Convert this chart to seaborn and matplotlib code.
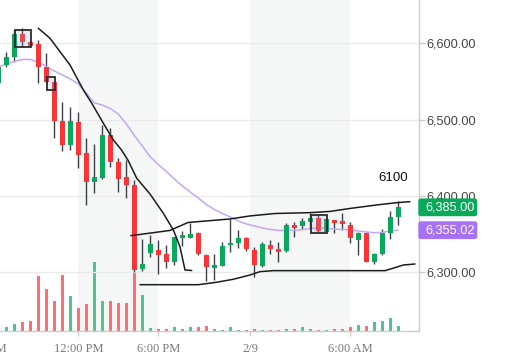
import matplotlib
matplotlib.use("Agg")
import numpy as np
import pandas as pd
import matplotlib.pyplot as plt
import seaborn as sns
from matplotlib.patches import Rectangle, FancyBboxPatch
from matplotlib.transforms import blended_transform_factory
from matplotlib.ticker import FuncFormatter

# ---------------- data ----------------
opens = [6548.4, 6571.6, 6582.4, 6612.2, 6602.0, 6599.1, 6569.3, 6549.7, 6498.2, 6466.7,
         6496.9, 6455.8, 6418.6, 6423.9, 6479.8, 6444.8, 6424.4, 6414.3, 6303.8, 6324.8,
         6329.1, 6323.9, 6313.8, 6344.4, 6345.2, 6351.0, 6322.5, 6305.9, 6308.1, 6335.3,
         6337.9, 6344.8, 6329.5, 6308.5, 6335.6, 6330.4, 6328.2, 6361.9, 6361.0, 6366.2,
         6371.4, 6353.1, 6368.4, 6367.1, 6361.9, 6342.2, 6351.0, 6313.8, 6323.9, 6351.0,
         6372.7]
highs = [6571.0, 6588.2, 6617.4, 6620.0, 6602.5, 6604.3, 6587.6, 6550.0, 6522.7, 6516.1,
         6510.4, 6476.3, 6467.6, 6492.9, 6488.6, 6449.3, 6447.1, 6420.8, 6343.1, 6348.8,
         6342.2, 6335.6, 6346.5, 6354.4, 6364.9, 6353.1, 6323.9, 6323.9, 6340.0, 6369.3,
         6355.3, 6345.5, 6333.4, 6340.0, 6342.2, 6340.0, 6364.1, 6366.2, 6370.7, 6378.0,
         6375.0, 6370.7, 6368.8, 6378.0, 6366.2, 6353.1, 6353.1, 6324.5, 6356.2, 6380.6,
         6393.7]
lows = [6546.0, 6569.3, 6575.9, 6595.5, 6596.5, 6548.4, 6547.6, 6475.5, 6459.2, 6460.2,
        6437.0, 6388.1, 6404.2, 6421.8, 6438.3, 6405.5, 6396.9, 6300.7, 6302.0, 6320.3,
        6297.7, 6305.1, 6309.4, 6334.3, 6344.4, 6322.5, 6288.9, 6289.8, 6307.5, 6326.9,
        6332.1, 6328.2, 6294.2, 6306.4, 6323.9, 6313.8, 6326.9, 6345.7, 6356.2, 6357.5,
        6353.1, 6351.0, 6351.8, 6355.3, 6337.9, 6322.5, 6313.0, 6310.7, 6322.5, 6343.1,
        6361.9]
closes = [6569.3, 6582.4, 6612.2, 6601.7, 6597.0, 6568.5, 6548.9, 6498.6, 6466.7, 6498.2,
          6453.6, 6418.6, 6424.4, 6479.8, 6444.8, 6421.8, 6414.3, 6302.9, 6310.7, 6337.0,
          6322.5, 6313.8, 6345.7, 6348.8, 6350.1, 6323.9, 6307.2, 6309.4, 6334.3, 6338.7,
          6344.8, 6330.4, 6309.4, 6337.0, 6330.4, 6326.9, 6361.9, 6358.3, 6367.1, 6370.7,
          6354.4, 6369.3, 6364.9, 6362.8, 6344.4, 6351.8, 6313.8, 6323.9, 6351.0, 6372.7,
          6385.0]
volumes = [20, 12, 22, 28, 31, 166, 127, 91, 169, 106,
           70, 82, 208, 91, 91, 85, 85, 178, 109, 10,
           7, 7, 13, 7, 13, 13, 16, 7, 4, 13,
           4, 4, 7, 4, 2, 2, 7, 7, 13, 7,
           4, 4, 7, 7, 13, 19, 16, 28, 31, 40,
           16]
ma_values = [6568.9, 6572.9, 6576.1, 6578.8, 6578.8, 6575.5, 6569.6, 6563.7, 6558.5, 6553.2,
             6546.7, 6534.9, 6521.8, 6519.1, 6514.5, 6507.3, 6494.2, 6479.2, 6465.4, 6451.0,
             6441.2, 6432.0, 6422.2, 6413.0, 6405.1, 6397.2, 6388.7, 6382.2, 6376.9, 6372.4,
             6367.1, 6363.2, 6360.6, 6357.9, 6356.0, 6354.7, 6354.7, 6354.9, 6355.7, 6357.0,
             6358.2, 6357.3, 6356.4, 6356.0, 6355.3, 6354.0, 6352.7, 6351.8, 6352.1, 6354.0,
             6355.02]

# drawings (bar index, price)
trend_x = [5.0, 6.46, 7.71, 8.96, 10.63, 11.68, 13.13, 14.38, 15.4, 16.25, 17.3, 18.96,
           20.63, 21.88, 22.71, 23.34, 24.18]
trend_y = [6619.7, 6606.6, 6589.0, 6571.6, 6538.8, 6521.4, 6495.2, 6473.3, 6460.2, 6446.0,
           6423.1, 6402.5, 6377.2, 6355.3, 6333.4, 6302.9, 6302.2]
upper_x = [16.55, 21.46, 23.71, 28.96, 31.46, 34.59, 38.96, 41.46, 43.96, 47.3, 49.8, 51.46]
upper_y = [6347.8, 6354.7, 6365.1, 6369.7, 6373.7, 6376.9, 6378.0, 6379.6, 6383.5, 6388.1,
           6391.1, 6392.4]
lower_x = [17.71, 25.0, 27.3, 29.38, 31.46, 32.71, 34.38, 48.34, 49.18, 50.63, 52.09]
lower_y = [6283.6, 6283.6, 6286.8, 6290.7, 6296.3, 6300.7, 6302.0, 6302.0, 6304.6, 6309.4,
           6310.7]
boxes = [(2.05, 4.13, 6594.8, 6617.4), (6.05, 7.13, 6538.8, 6555.4), (39.05, 41.05, 6351.0, 6375.0)]
note_text = "6100"
note_pos = (49.34, 6423.5)

price_ticks = [6300, 6400, 6500, 6600]
time_tick_pos = [10, 20, 31.5, 44]
time_tick_labels = ["12:00 PM", "6:00 PM", "2/9", "6:00 AM"]
left_tick_pos, left_tick_label = -1.8, "6:00 AM"
sessions = [(10, 20), (31.5, 44)]

# ---------------- style ----------------
sns.set_theme(style="white")
plt.rcParams["font.family"] = ["Liberation Sans", "DejaVu Sans"]

GREEN = "#08a95a"
RED = "#fc3437"
VOL_GREEN = "#52c28f"
VOL_RED = "#fb7075"
WICK = "#3c4148"
MA_COLOR = "#c4a6f7"
PURPLE = "#a872f6"
BAND = "#f5f7f7"
GRID = "#ebebeb"
AXIS = "#cccccc"
DRAW = "#1c1c1c"
SERIF = ["Liberation Serif", "DejaVu Serif"]

o = np.array(opens); c = np.array(closes)
n = len(opens)
idx = np.arange(n)
direction = np.where(c >= o, "up", "down")
df = pd.DataFrame(dict(idx=idx, open=o, high=highs, low=lows, close=c,
                       volume=volumes, ma=ma_values, dir=direction))

fig = plt.figure(figsize=(5.15, 3.64), dpi=100)
axv = fig.add_axes([0, 33 / 364, 419 / 515, 331 / 364])
ax = axv.twinx()

# sessions shading
for a, b in sessions:
    axv.axvspan(a, b, color=BAND, lw=0, zorder=0)

# volume bars
sns.barplot(data=df, x="idx", y="volume", hue="dir",
            palette={"up": VOL_GREEN, "down": VOL_RED}, dodge=False, width=0.33,
            native_scale=True, saturation=1, errorbar=None, legend=False, ax=axv,
            linewidth=0, zorder=1)
axv.set_ylim(0, 993)
axv.set_yticks([])
axv.set_xlabel("")
axv.set_ylabel("")

# price grid
for t in price_ticks:
    ax.axhline(t, color=GRID, lw=1, zorder=0.5)

# MA line
sns.lineplot(data=df, x="idx", y="ma", ax=ax, color=MA_COLOR, lw=1.1, zorder=2.5)

# candles
ax.vlines(idx, df["low"], df["high"], color=WICK, lw=1, zorder=2)
ax.bar(idx, np.abs(c - o), bottom=np.minimum(o, c), width=0.59,
       color=[GREEN if d == "up" else RED for d in direction], lw=0, zorder=3)

# drawings
ax.plot(trend_x, trend_y, color=DRAW, lw=1.1, zorder=5)
ax.plot(upper_x, upper_y, color=DRAW, lw=1.1, zorder=5)
ax.plot(lower_x, lower_y, color=DRAW, lw=1.1, zorder=5)
for x0, x1, y0, y1 in boxes:
    ax.add_patch(Rectangle((x0, y0), x1 - x0, y1 - y0, facecolor=(0.55, 0.65, 0.85, 0.2),
                           edgecolor="#2b2b2b", lw=1.3, zorder=6))
ax.text(note_pos[0], note_pos[1], note_text, ha="center", va="center", fontsize=9.5,
        color="#111111", zorder=7)

# axes limits
ax.set_ylim(6222.9, 6656.7)
axv.set_xlim(0.2125, 52.59)
ax.set_xlim(0.2125, 52.59)
ax.set_xlabel("")
ax.set_ylabel("")

# y axis (right)
ax.set_yticks(price_ticks)
ax.yaxis.set_major_formatter(FuncFormatter(lambda v, p: f"{v:,.2f}"))
ax.tick_params(axis="y", right=True, left=False, length=4, width=1, color=AXIS, pad=1.5,
               labelsize=9.2, labelcolor="#454545")

# x axis (bottom)
TL, PAD = 3.5, 5.0
axv.set_xticks(time_tick_pos)
axv.set_xticklabels(time_tick_labels)
axv.tick_params(axis="x", bottom=True, length=TL, width=1, color=AXIS, pad=PAD,
                labelsize=9, labelcolor="#7a7a7a")
for lab in axv.get_xticklabels():
    lab.set_fontfamily(SERIF)
axv.annotate(left_tick_label, xy=(left_tick_pos, 0), xycoords=("data", "axes fraction"),
             xytext=(0, -(TL + PAD)), textcoords="offset points", ha="center", va="top",
             fontsize=9, color="#7a7a7a", fontfamily=SERIF, annotation_clip=False)

for sp in axv.spines.values():
    sp.set_visible(False)
axv.spines["bottom"].set_visible(True)
axv.spines["bottom"].set_color(AXIS)
axv.spines["bottom"].set_linewidth(1)
for name, sp in ax.spines.items():
    sp.set_visible(name == "right")
ax.spines["right"].set_color(AXIS)
ax.spines["right"].set_linewidth(1)

# price labels on the axis
trans = blended_transform_factory(ax.transAxes, ax.transData)
box_w = 59 / 419
box_h = 17.8 * 1.3106
for val, col in [(closes[-1], GREEN), (ma_values[-1], PURPLE)]:
    patch = FancyBboxPatch((1.0 - 0.7 / 419, val - box_h / 2), box_w, box_h,
                           boxstyle="round,pad=0,rounding_size=0.006", mutation_aspect=546,
                           transform=trans, fc=col, ec="none", clip_on=False, zorder=20)
    ax.add_patch(patch)
    ax.text(1.0 + 6 / 419, val, f"{val:,.2f}", transform=trans, color="white", ha="left",
            va="center", fontsize=9.2, clip_on=False, zorder=21)

ax.set_ylim(6222.9, 6656.7)
ax.set_xlim(0.2125, 52.59)

fig.savefig("out.png", dpi=100)
